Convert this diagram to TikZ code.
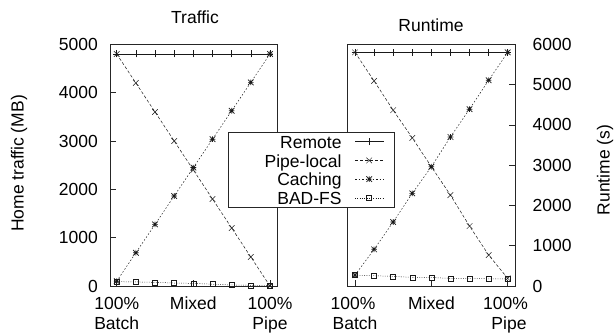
\documentclass[tikz,border=0pt]{standalone}
\usepackage{fontspec}
\setmainfont{Liberation Sans}
\usetikzlibrary{plotmarks}
\pgfdeclareplotmark{gpplus}{%
 \pgfpathmoveto{\pgfqpoint{-\pgfplotmarksize}{0pt}}\pgfpathlineto{\pgfqpoint{\pgfplotmarksize}{0pt}}%
 \pgfpathmoveto{\pgfqpoint{0pt}{-\pgfplotmarksize}}\pgfpathlineto{\pgfqpoint{0pt}{\pgfplotmarksize}}%
 \pgfusepathqstroke}
\pgfdeclareplotmark{gpcross}{%
 \pgfpathmoveto{\pgfqpoint{-\pgfplotmarksize}{-\pgfplotmarksize}}\pgfpathlineto{\pgfqpoint{\pgfplotmarksize}{\pgfplotmarksize}}%
 \pgfpathmoveto{\pgfqpoint{-\pgfplotmarksize}{\pgfplotmarksize}}\pgfpathlineto{\pgfqpoint{\pgfplotmarksize}{-\pgfplotmarksize}}%
 \pgfusepathqstroke}
\pgfdeclareplotmark{gpstar}{%
 \pgfpathmoveto{\pgfqpoint{-\pgfplotmarksize}{-\pgfplotmarksize}}\pgfpathlineto{\pgfqpoint{\pgfplotmarksize}{\pgfplotmarksize}}%
 \pgfpathmoveto{\pgfqpoint{-\pgfplotmarksize}{\pgfplotmarksize}}\pgfpathlineto{\pgfqpoint{\pgfplotmarksize}{-\pgfplotmarksize}}%
 \pgfpathmoveto{\pgfqpoint{-\pgfplotmarksize}{0pt}}\pgfpathlineto{\pgfqpoint{\pgfplotmarksize}{0pt}}%
 \pgfpathmoveto{\pgfqpoint{0pt}{-\pgfplotmarksize}}\pgfpathlineto{\pgfqpoint{0pt}{\pgfplotmarksize}}%
 \pgfusepathqstroke}
\pgfdeclareplotmark{gpbox}{%
 \pgfpathrectangle{\pgfqpoint{-\pgfplotmarksize}{-\pgfplotmarksize}}{\pgfqpoint{2\pgfplotmarksize}{2\pgfplotmarksize}}%
 \pgfusepathqstroke}
\begin{document}
\begin{tikzpicture}[x=1pt,y=-1pt,
  lbl/.style={font=\fontsize{17.5}{20}\selectfont, inner sep=0pt},
  frame/.style={line width=0.7pt, draw=black!85},
  series/.style={line width=0.5pt, draw=black!90, mark options={solid}},
  remote/.style={series, mark size=3.5pt},
  pipe/.style={series, dash pattern=on 3pt off 2pt, mark size=2.8pt},
  cach/.style={series, dash pattern=on 1.5pt off 2pt, mark size=2.8pt, mark options={solid, line width=0.7pt}},
  badfs/.style={series, dash pattern=on 0.8pt off 1.5pt, mark size=2.5pt}]
\useasboundingbox (0,0) rectangle (615,335);

% ---------- left plot: Traffic ----------
\node[lbl, anchor=base] (t1) at (195,23.3) {Traffic};
\node[lbl, rotate=90] (yl1) at (19,163.5) {Home traffic (MB)};
\draw[frame] (110,44.3) rectangle (277.7,286);
\foreach \v/\t in {0/0,1/1000,2/2000,3/3000,4/4000,5/5000}{
  \draw[frame] (110,{286-48.34*\v}) -- ++(6,0);
  \node[lbl, anchor=east] (ly\v) at (98,{286-48.34*\v}) {\t};
}
\foreach \x in {116.7,193.3,270}{
  \draw[frame] (\x,286) -- ++(0,-6);
}
\node[lbl, anchor=base] (lx1a) at (116.7,309.3) {100\%};
\node[lbl, anchor=base] (lx1b) at (116.7,329.6) {Batch};
\node[lbl, anchor=base] (lx2) at (193.3,309.3) {Mixed};
\node[lbl, anchor=base] (lx3a) at (270,309.3) {100\%};
\node[lbl, anchor=base] (lx3b) at (270,329.6) {Pipe};

\begin{scope}[shift={(116.7,286)}, x=19.16pt, y=0.04834pt]
  \draw[remote] plot[mark=gpplus] coordinates {(0,4800)(1,4800)(2,4800)(3,4800)(4,4800)(5,4800)(6,4800)(7,4800)(8,4800)};
  \draw[pipe] plot[mark=gpcross] coordinates {(0,4800)(1,4200)(2,3600)(3,3000)(4,2400)(5,1800)(6,1200)(7,600)(8,0)};
  \draw[cach] plot[mark=gpstar] coordinates {(0,100)(1,687)(2,1275)(3,1862)(4,2450)(5,3037)(6,3625)(7,4212)(8,4800)};
  \draw[badfs] plot[mark=gpbox] coordinates {(0,90)(1,85)(2,75)(3,62)(4,55)(5,37)(6,22)(7,14)(8,6)};
\end{scope}

% ---------- right plot: Runtime ----------
\node[lbl, anchor=base] (t2) at (431,31.7) {Runtime};
\node[lbl, rotate=90] (yl2) at (605,170) {Runtime (s)};
\draw[frame] (347.3,44.3) rectangle (515,286);
\foreach \v/\t in {0/0,1/1000,2/2000,3/3000,4/4000,5/5000,6/6000}{
  \draw[frame] (515,{286-40.28*\v}) -- ++(-6,0);
  \node[lbl, anchor=west] (ry\v) at (532.5,{286-40.28*\v}) {\t};
}
\foreach \x in {355,431.4,507.7}{
  \draw[frame] (\x,286) -- ++(0,-6);
}
\node[lbl, anchor=base] (rx1a) at (353,309.3) {100\%};
\node[lbl, anchor=base] (rx1b) at (355,329.6) {Batch};
\node[lbl, anchor=base] (rx2) at (431.4,309.3) {Mixed};
\node[lbl, anchor=base] (rx3a) at (505.5,309.3) {100\%};
\node[lbl, anchor=base] (rx3b) at (509,329.6) {Pipe};

\begin{scope}[shift={(355,286)}, x=19.09pt, y=0.04028pt]
  \draw[remote] plot[mark=gpplus] coordinates {(0,5800)(1,5800)(2,5800)(3,5800)(4,5800)(5,5800)(6,5800)(7,5800)(8,5800)};
  \draw[pipe] plot[mark=gpcross] coordinates {(0,5800)(1,5090)(2,4364)(3,3677)(4,2960)(5,2256)(6,1488)(7,769)(8,190)};
  \draw[cach] plot[mark=gpstar] coordinates {(0,270)(1,910)(2,1590)(3,2300)(4,2960)(5,3700)(6,4390)(7,5108)(8,5800)};
  \draw[badfs] plot[mark=gpbox] coordinates {(0,270)(1,255)(2,240)(3,215)(4,210)(5,190)(6,188)(7,180)(8,175)};
\end{scope}

% ---------- legend ----------
\node[frame, draw, fill=white, minimum width=166pt, minimum height=75.7pt, inner sep=0pt] (legend) at (311.3,169.85) {};
\node[lbl, anchor=base east] (k1) at (341.7,148.3) {Remote};
\node[lbl, anchor=base east] (k2) at (341.7,167) {Pipe-local};
\node[lbl, anchor=base east] (k3) at (341.7,185.7) {Caching};
\node[lbl, anchor=base east] (k4) at (341.7,204.3) {BAD-FS};
\draw[remote] (355,141.7) -- (383.5,141.7);
\draw[remote] plot[mark=gpplus] coordinates {(369.2,141.7)};
\draw[pipe] (355,160.4) -- (383.5,160.4);
\draw[pipe] plot[mark=gpcross] coordinates {(369.2,160.4)};
\draw[cach] (355,179.1) -- (383.5,179.1);
\draw[cach] plot[mark=gpstar] coordinates {(369.2,179.1)};
\draw[badfs] (355,197.8) -- (383.5,197.8);
\draw[badfs] plot[mark=gpbox] coordinates {(369.2,197.8)};
\end{tikzpicture}
\end{document}
